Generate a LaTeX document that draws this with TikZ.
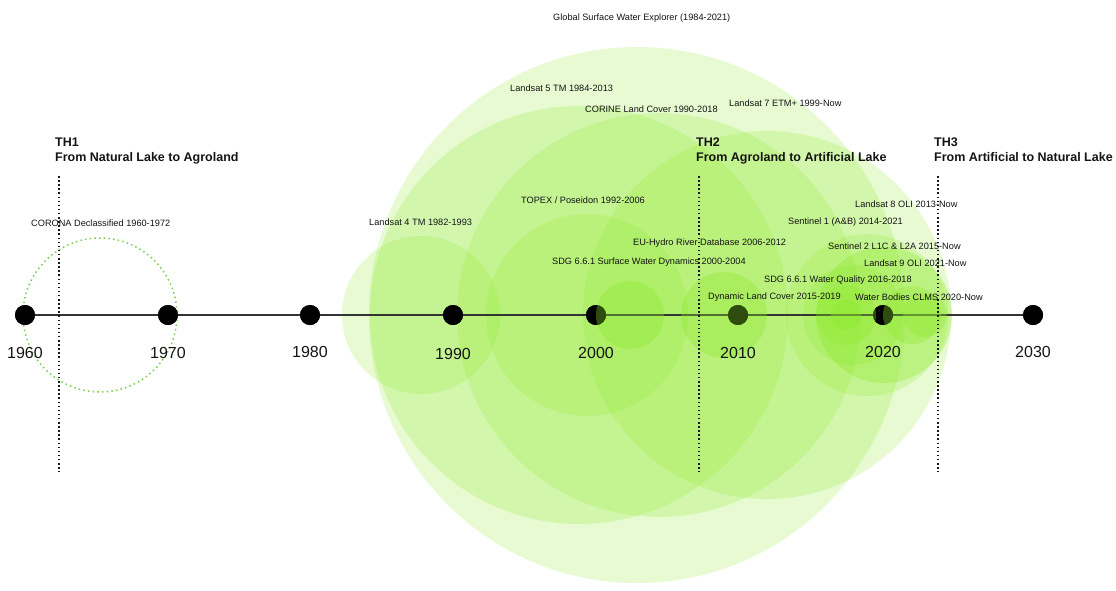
\documentclass[tikz,border=0pt]{standalone}
\usepackage{fontspec}
\setmainfont{Liberation Sans}
\definecolor{lime}{RGB}{140,232,40}
\definecolor{ink}{RGB}{20,20,20}
\definecolor{dotgreen}{RGB}{120,205,80}
\begin{document}
\begin{tikzpicture}[x=1pt,y=-1pt,
  big/.style={fill=lime,fill opacity=0.21,draw=none},
  small/.style={fill=lime,fill opacity=0.33,draw=none},
  lbl/.style={font=\fontsize{9.2}{10}\selectfont,text=ink,inner sep=0pt,anchor=west},
  thlbl/.style={font=\fontsize{12.5}{15}\selectfont\bfseries,text=ink,inner sep=0pt,anchor=north west,align=left},
  yearlbl/.style={font=\fontsize{16}{18}\selectfont,text=ink,inner sep=0pt},
  yeardot/.style={circle,fill=black,minimum size=20pt,inner sep=0pt},
  thline/.style={line width=1.5pt,dash pattern=on 1.5pt off 2.6pt,ink}
]
\useasboundingbox (0,0) rectangle (1116,590);
% large dataset circles (below axis)
\fill[big] (637,315) circle (268);   % GSWE 1984-2021
\fill[big] (579,315) circle (209);   % Landsat 5
\fill[big] (659,315) circle (202);   % CORINE
\fill[big] (767,315) circle (184);   % Landsat 7
\fill[big] (587,315) circle (101);   % TOPEX
\fill[big] (421,315) circle (79);    % Landsat 4
\fill[big] (867,315) circle (81);    % Landsat 8
\fill[big] (853,315) circle (50);    % Sentinel 1
\fill[small] (884,315) circle (68);  % Sentinel 2
% CORONA dotted circle
\draw[dotgreen,line width=1.5pt,dash pattern=on 1.5pt off 3.2pt] (100,315) circle (77);
% axis and dots
\node[yeardot] (d1960) at (25,315) {};
\node[yeardot] (d1970) at (168,315) {};
\node[yeardot] (d1980) at (310,315) {};
\node[yeardot] (d1990) at (453,315) {};
\node[yeardot] (d2000) at (596,315) {};
\node[yeardot] (d2010) at (738,315) {};
\node[yeardot] (d2020) at (883,315) {};
\node[yeardot] (d2030) at (1033,315) {};
\draw[line width=1.6pt,black!80] (d1960.center) -- (d2030.center);
\foreach \n in {d1960,d1970,d1980,d1990,d2000,d2010,d2020,d2030}
  \node[yeardot] at (\n) {};
% small dataset circles (over the axis)
\fill[small] (630,315) circle (34);  % SDG SWD
\fill[small] (724,315) circle (43);  % EU-Hydro
\fill[small] (846,315) circle (30);  % Dynamic LC
\fill[small] (846,315) circle (15);  % SDG WQ
\fill[small] (912,315) circle (29);  % Water Bodies
\fill[small] (925,315) circle (22);  % Landsat 9
% year labels
\node[yearlbl] (y1960) at (25,353) {1960};
\node[yearlbl] (y1970) at (168,353) {1970};
\node[yearlbl] (y1980) at (310,352) {1980};
\node[yearlbl] (y1990) at (453,354) {1990};
\node[yearlbl] (y2000) at (596,353) {2000};
\node[yearlbl] (y2010) at (738,353) {2010};
\node[yearlbl] (y2020) at (883,352) {2020};
\node[yearlbl] (y2030) at (1033,352) {2030};
% thresholds
\node[thlbl] (th1) at (55,138) {TH1\\From Natural Lake to Agroland};
\node[thlbl] (th2) at (696,138) {TH2\\From Agroland to Artificial Lake};
\node[thlbl] (th3) at (934,138) {TH3\\From Artificial to Natural Lake};
\coordinate (t1a) at (59,176); \coordinate (t1b) at (59,472);
\coordinate (t2a) at (699,176); \coordinate (t2b) at (699,472);
\coordinate (t3a) at (938,176); \coordinate (t3b) at (938,472);
\draw[thline] (t1a) -- (t1b);
\draw[thline] (t2a) -- (t2b);
\draw[thline] (t3a) -- (t3b);
% dataset labels
\node[lbl] (lgswe) at (553,18) {Global Surface Water Explorer (1984-2021)};
\node[lbl] (ll5) at (510,88) {Landsat 5 TM 1984-2013};
\node[lbl] (lcor) at (585,109) {CORINE Land Cover 1990-2018};
\node[lbl] (ll7) at (729,103) {Landsat 7 ETM+ 1999-Now};
\node[lbl] (ltop) at (521,200) {TOPEX / Poseidon 1992-2006};
\node[lbl] (ll4) at (369,222) {Landsat 4 TM 1982-1993};
\node[lbl] (lcoro) at (31,223) {CORONA Declassified 1960-1972};
\node[lbl] (leuh) at (633,243) {EU-Hydro River Database 2006-2012};
\node[lbl] (lswd) at (552,262) {SDG 6.6.1 Surface Water Dynamics 2000-2004};
\node[lbl] (ll8) at (855,204) {Landsat 8 OLI 2013-Now};
\node[lbl] (ls1) at (788,222) {Sentinel 1 (A\&B) 2014-2021};
\node[lbl] (ls2) at (828,246) {Sentinel 2 L1C \& L2A 2015-Now};
\node[lbl] (ll9) at (864,263) {Landsat 9 OLI 2021-Now};
\node[lbl] (lwq) at (764,280) {SDG 6.6.1 Water Quality 2016-2018};
\node[lbl] (ldlc) at (708,297) {Dynamic Land Cover 2015-2019};
\node[lbl] (lwb) at (855,297) {Water Bodies CLMS 2020-Now};
\end{tikzpicture}
\end{document}
